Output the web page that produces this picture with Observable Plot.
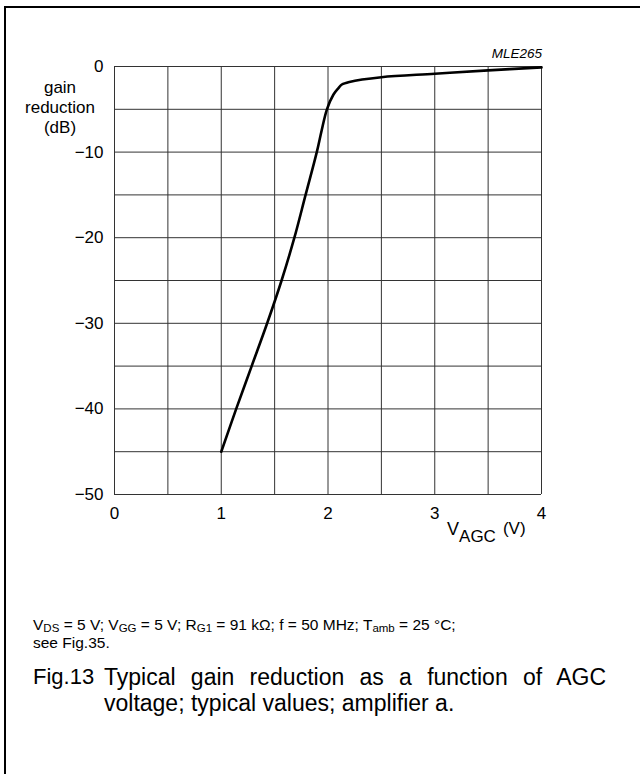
<!DOCTYPE html>
<html>
<head>
<meta charset="utf-8">
<script src="https://cdn.jsdelivr.net/npm/d3@7"></script>
<script src="https://cdn.jsdelivr.net/npm/@observablehq/plot@0.6"></script>
<style>
  html, body { margin: 0; padding: 0; background: #fff; }
  body { width: 640px; height: 774px; overflow: hidden; font-family: "Liberation Sans", Arial, Helvetica, sans-serif; color: #000; }
  #page { position: relative; width: 640px; height: 774px; }
  #frame { position: absolute; left: 4px; top: 6px; width: 640px; height: 780px; border-top: 2px solid #000; border-left: 2px solid #000; box-sizing: border-box; }
  #chart { position: absolute; left: 0; top: 0; }
  .abs { position: absolute; white-space: nowrap; }
  #ylab { left: 0; width: 120px; top: 78px; font-size: 17px; line-height: 20px; text-align: center; }
  #code { right: 98px; top: 46px; font-size: 13.5px; line-height: 15px; font-style: italic; }
  #cond1 { left: 33px; top: 616px; font-size: 15.5px; line-height: 17px; }
  #cond1 sub { font-size: 11.5px; vertical-align: -2px; line-height: 0; }
  #cond2 { left: 33px; top: 634px; font-size: 15.5px; line-height: 17px; }
  #fignum { left: 33px; top: 664px; font-size: 22px; line-height: 26px; }
  #figtxt { position: absolute; left: 104px; top: 664px; width: 502px; font-size: 23px; line-height: 26px; text-align: justify; white-space: normal; }
</style>
</head>
<body>
<div id="page">
  <div id="frame"></div>
  <div id="chart"></div>
  <div class="abs" id="ylab">gain<br>reduction<br>(dB)</div>
  <div class="abs" id="code">MLE265</div>
  <div class="abs" id="cond1">V<sub>DS</sub> = 5 V; V<sub>GG</sub> = 5 V; R<sub>G1</sub> = 91 kΩ; f = 50 MHz; T<sub>amb</sub> = 25 °C;</div>
  <div class="abs" id="cond2">see Fig.35.</div>
  <div class="abs" id="fignum">Fig.13</div>
  <div id="figtxt">Typical gain reduction as a function of AGC voltage; typical values; amplifier a.</div>
</div>
<script>
// Data
const vAgc = [1.0, 1.14, 1.285, 1.43, 1.565, 1.685, 1.79, 1.895, 1.94, 1.99, 2.05, 2.10, 2.13, 2.2, 2.5, 3.0, 3.5, 4.0];
const gainRed = [-45, -40, -35, -30, -25, -20, -15, -10, -7.5, -5, -3.3, -2.5, -2.1, -1.8, -1.25, -0.85, -0.45, -0.1];
const xGrid = [0, 0.5, 1, 1.5, 2, 2.5, 3, 3.5, 4];
const yGrid = [0, -5, -10, -15, -20, -25, -30, -35, -40, -45, -50];
const xTicks = [0, 1, 2, 3, 4];
const yTicks = [0, -10, -20, -30, -40, -50];

const curve = vAgc.map((v, i) => ({v, g: gainRed[i]}));

const plot = Plot.plot({
  width: 640,
  height: 560,
  marginLeft: 114,
  marginRight: 99,
  marginTop: 66,
  marginBottom: 66,
  style: {fontFamily: "'Liberation Sans', Arial, Helvetica, sans-serif", fontSize: "17px", color: "#000", background: "transparent", overflow: "visible"},
  x: {domain: [0, 4]},
  y: {domain: [-50, 0]},
  marks: [
    Plot.ruleX(xGrid, {stroke: "#333", strokeWidth: 1}),
    Plot.ruleY(yGrid, {stroke: "#333", strokeWidth: 1}),
    Plot.axisX({ticks: xTicks, tickSize: 0, tickPadding: 12, tickFormat: d3.format("d"), label: null}),
    Plot.axisY({ticks: yTicks, tickSize: 0, tickPadding: 11, label: null}),
    Plot.line(curve, {x: "v", y: "g", stroke: "#000", strokeWidth: 2.6, curve: "catmull-rom"})
  ]
});
document.getElementById("chart").appendChild(plot);

// x-axis label V_AGC (V)
const svg = d3.select(plot);
const xs = plot.scale("x");
const lab = svg.append("text")
  .attr("x", xs.apply(3.12))
  .attr("y", 535)
  .attr("text-anchor", "start")
  .attr("fill", "#000")
  .style("font-size", "18px");
lab.append("tspan").text("V");
lab.append("tspan").attr("dy", 7).style("font-size", "17px").text("AGC");
lab.append("tspan").attr("dy", -8).attr("dx", 7).style("font-size", "17px").text("(V)");
</script>
</body>
</html>
